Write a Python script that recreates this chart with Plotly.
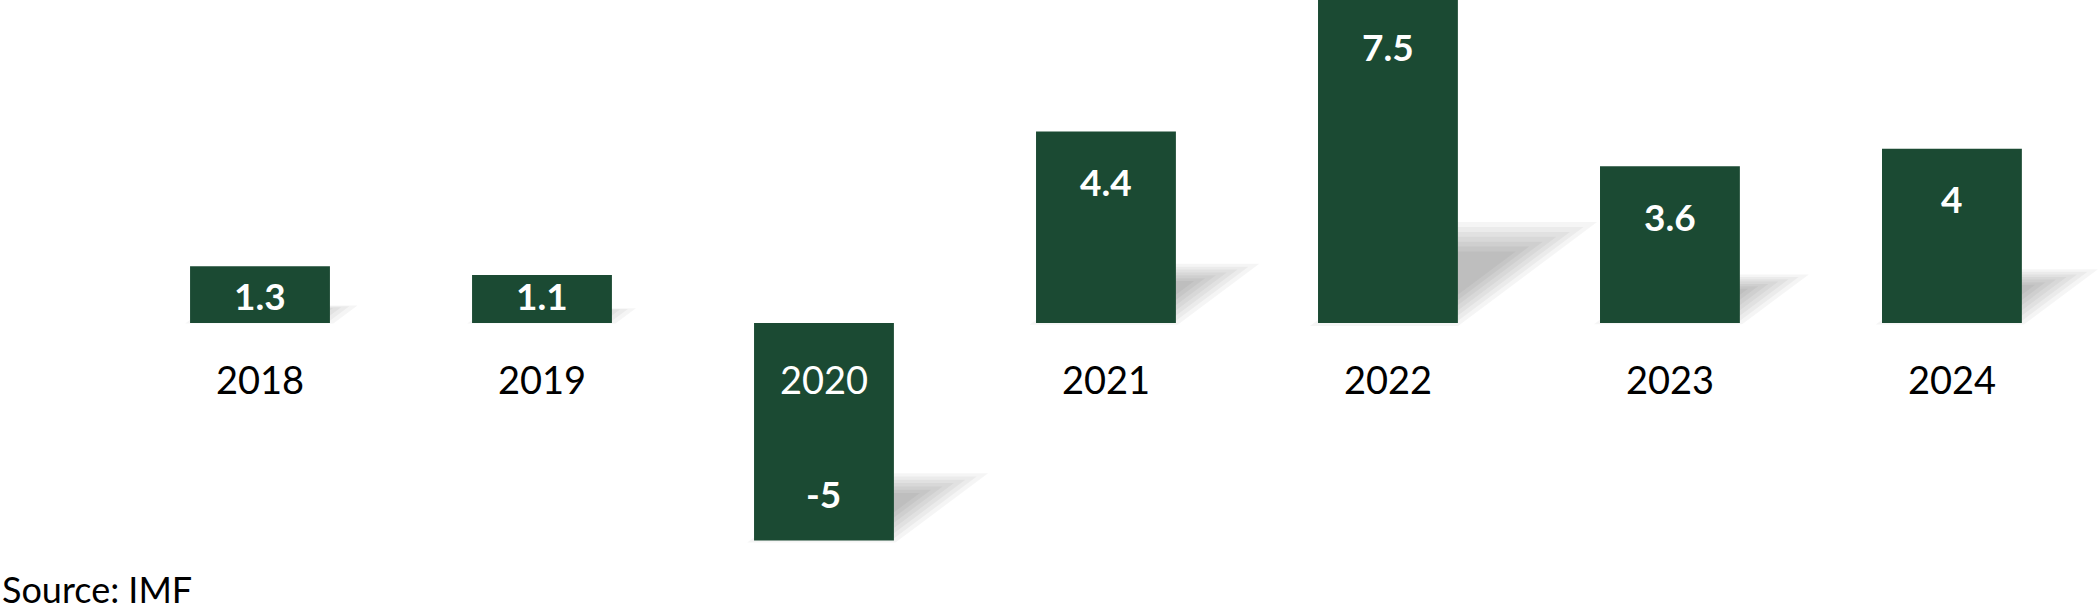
import plotly.graph_objects as go


years  = ['2018', '2019', '2020', '2021', '2022', '2023', '2024']
growth = [1.3, 1.1, -5, 4.4, 7.5, 3.6, 4]
labels = ['1.3', '1.1', '-5', '4.4', '7.5', '3.6', '4']

GREEN = '#1b4a33'
FONT  = 'Lato, Carlito, Calibri, sans-serif'

fig = go.Figure()

fig.add_trace(go.Bar(
    x=list(range(len(years))),
    y=growth,
    width=0.496,
    marker=dict(color=GREEN, line=dict(width=0)),
    hoverinfo='skip',
    showlegend=False
))

# soft perspective shadows behind the bars: nested faint parallelograms fake a blur
half = 0.248
shapes = []
for i, v in enumerate(growth):
    base = min(0, v)
    L = abs(v)
    dx = 0.062 * L
    dy = 0.30 * L
    px = [i - half, i + half, i + half + dx, i - half + dx]
    py = [base, base, base + dy, base + dy]
    cx = sum(px) / 4
    cy = sum(py) / 4
    for s in [1.06, 0.96, 0.86, 0.76, 0.66, 0.56, 0.46]:
        qx = [cx + (p - cx) * s for p in px]
        qy = [cy + (p - cy) * s for p in py]
        path = 'M {} {} L {} {} L {} {} L {} {} Z'.format(
            qx[0], qy[0], qx[1], qy[1], qx[2], qy[2], qx[3], qy[3])
        shapes.append(dict(
            type='path', path=path, xref='x', yref='y', layer='below',
            fillcolor='rgba(0,0,0,0.04)', line=dict(width=0)
        ))

annotations = []

# value labels, inside end of each bar
for i, v in enumerate(growth):
    if v >= 0:
        ly = max(v - 1.15, 0.64)
    else:
        ly = min(v + 1.08, -0.64)
    annotations.append(dict(
        x=i, y=ly, text='<b>' + labels[i] + '</b>', showarrow=False,
        font=dict(family=FONT, size=37, color='white'),
        xanchor='center', yanchor='middle'
    ))

# category labels just below the zero line
for i, yr in enumerate(years):
    annotations.append(dict(
        x=i, y=0, yshift=-56, text=yr, showarrow=False,
        font=dict(family=FONT, size=38, color='white' if growth[i] < -1.9 else 'black'),
        xanchor='center', yanchor='middle'
    ))

annotations.append(dict(
    xref='paper', yref='paper', x=0, y=0.042,
    text='Source: IMF', showarrow=False,
    font=dict(family=FONT, size=36, color='black'),
    xanchor='left', yanchor='middle'
))

fig.update_layout(
    width=2098, height=615,
    margin=dict(l=0, r=0, t=0, b=0),
    paper_bgcolor='white', plot_bgcolor='white',
    xaxis=dict(range=[-0.922, 6.518], visible=False, fixedrange=True),
    yaxis=dict(range=[-6.71, 7.42], visible=False, fixedrange=True),
    shapes=shapes,
    annotations=annotations,
    bargap=0.5
)

fig.write_html('out.html', config={'displayModeBar': False},
               post_script="document.body.style.margin='0';")
